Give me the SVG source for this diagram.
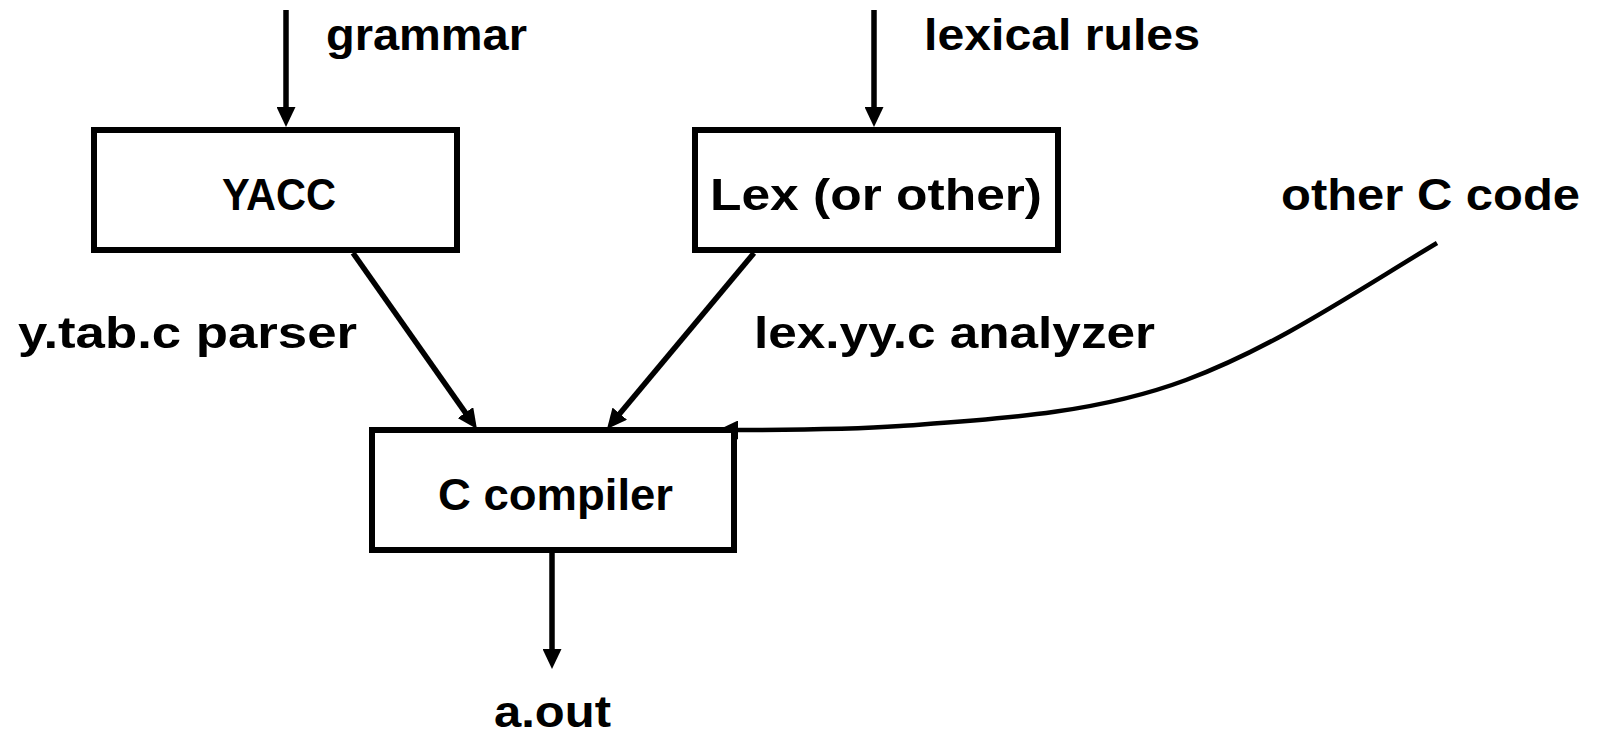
<svg xmlns="http://www.w3.org/2000/svg" width="1598" height="736" viewBox="0 0 1598 736">
<defs>
<marker id="ah" markerUnits="userSpaceOnUse" markerWidth="20" markerHeight="19" viewBox="0 0 20 19" refX="10" refY="9.5" orient="auto">
<path d="M0,0 L20,9.5 L0,19 Z" fill="#000"/>
</marker>
</defs>
<style>
.box{fill:#fff;stroke:#000;stroke-width:6}
.edge{fill:none;stroke:#000;stroke-width:5.5}
.curve{fill:none;stroke:#000;stroke-width:4.5}
.t{font-family:"Liberation Sans",Arial,sans-serif;font-weight:bold;font-size:45px;fill:#000}
</style>
<rect width="1598" height="736" fill="#fff"/>
<g id="connectors">
<line class="edge" x1="286" y1="10" x2="286" y2="117" marker-end="url(#ah)"/>
<line class="edge" x1="874" y1="10" x2="874" y2="117" marker-end="url(#ah)"/>
<line class="edge" x1="353" y1="253" x2="471.2" y2="420.8" marker-end="url(#ah)"/>
<line class="edge" x1="754" y1="253" x2="613.4" y2="421.3" marker-end="url(#ah)"/>
<path class="curve" d="M1437,243 C1355,292 1275,347 1186,380 C1095,414 997,419 900,426 C843,430 785,430 728,430" marker-end="url(#ah)"/>
<line class="edge" x1="552" y1="553" x2="552" y2="659" marker-end="url(#ah)"/>
</g>
<g id="label-grammar"><text class="t" x="326" y="50" textLength="201" lengthAdjust="spacingAndGlyphs">grammar</text></g>
<g id="label-lexical"><text class="t" x="924" y="50" textLength="276" lengthAdjust="spacingAndGlyphs">lexical rules</text></g>
<g id="node-yacc">
<rect class="box" x="94" y="130" width="363" height="120"/>
<text class="t" x="222" y="210" textLength="114" lengthAdjust="spacingAndGlyphs">YACC</text>
</g>
<g id="node-lex">
<rect class="box" x="695" y="130" width="363" height="120"/>
<text class="t" x="710" y="210" textLength="332" lengthAdjust="spacingAndGlyphs">Lex (or other)</text>
</g>
<g id="label-other"><text class="t" x="1281" y="210" textLength="299" lengthAdjust="spacingAndGlyphs">other C code</text></g>
<g id="label-parser"><text class="t" x="18" y="348" textLength="339" lengthAdjust="spacingAndGlyphs">y.tab.c parser</text></g>
<g id="label-analyzer"><text class="t" x="754" y="348" textLength="401" lengthAdjust="spacingAndGlyphs">lex.yy.c analyzer</text></g>
<g id="node-cc">
<rect class="box" x="372" y="430" width="362" height="120"/>
<text class="t" x="438" y="510" textLength="235" lengthAdjust="spacingAndGlyphs">C compiler</text>
</g>
<g id="label-aout"><text class="t" x="494" y="727" textLength="117" lengthAdjust="spacingAndGlyphs">a.out</text></g>
</svg>
